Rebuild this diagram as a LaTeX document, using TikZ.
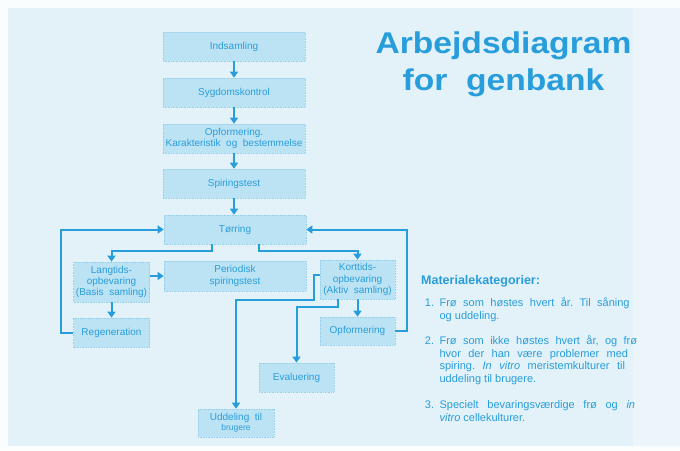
\documentclass[tikz,border=0pt]{standalone}
\usepackage{fontspec}
\setmainfont{Liberation Sans}
\newfontfamily\titlefont[FakeStretch=1.12]{Liberation Sans}
\usetikzlibrary{arrows.meta}
\frenchspacing

\definecolor{margin}{RGB}{250,253,254}
\definecolor{paper}{RGB}{227,242,248}
\definecolor{paperlight}{RGB}{236,246,250}
\definecolor{boxfill}{RGB}{188,227,243}
\definecolor{boxedge}{RGB}{150,208,234}
\definecolor{ink}{RGB}{40,157,220}

\tikzset{
  box/.style={rectangle, fill=boxfill, draw=boxedge, densely dotted, line width=0.6pt,
    text=ink, font=\fontsize{10}{11.2}\selectfont, align=center, inner sep=0pt},
  wide/.style={box, minimum width=142, minimum height=29},
  narrow/.style={box, minimum width=76, minimum height=29},
  flow/.style={draw=ink, line width=2pt, solid,
    -{Triangle[width=8pt,length=6pt]}},
  listtext/.style={text=ink, font=\fontsize{11}{12.7}\selectfont, inner sep=0pt},
}

\begin{document}
\begin{tikzpicture}[x=1pt,y=-1pt]
% paper
\fill[margin] (0,0) rectangle (680,450);
\fill[paper] (8,8) rectangle (633,446);
\fill[paperlight] (633,8) rectangle (680,446);
\useasboundingbox (0,0) rectangle (680,450);

% main column
\node[wide] (ind) at (234,46.5) {Indsamling};
\node[wide] (syg) at (234,92.5) {Sygdomskontrol};
\node[wide] (opf) at (234,138.5) {Opformering.\\Karakteristik\ \ og\ \ bestemmelse};
\node[wide] (spi) at (234,183.5) {Spiringstest};
\node[wide] (tor) at (235,229.5) {Tørring};

% storage branches
\node[narrow, minimum height=40] (lang) at (111.5,282) {Langtids-\\opbevaring\\(Basis\ \ samling)};
\node[wide, minimum height=30] (per) at (235,276) {Periodisk\\spiringstest};
\node[narrow, minimum width=75, minimum height=39] (kort) at (357.5,279.5) {Korttids-\\opbevaring\\(Aktiv\ \ samling)};
\node[narrow] (reg) at (111.5,332.5) {Regeneration};
\node[narrow, minimum width=75, minimum height=28] (opf2) at (357.5,331) {Opformering};
\node[narrow, minimum width=75] (eva) at (296.5,377.5) {Evaluering};
\node[narrow, minimum height=28] (udd) at (236,423) {Uddeling\ \ til\\[-1pt]{\fontsize{8.5}{9}\selectfont brugere}};

% bends
\coordinate (lloop) at (61,0);
\coordinate (rloop) at (407,0);
\coordinate (splitL) at (212,251);
\coordinate (splitR) at (259,251);
\coordinate (ku1) at (313.5,275);
\coordinate (ku2) at (313.5,300);
\coordinate (ke) at (338,307);

% connectors
\draw[flow] (ind.south) -- (ind.south |- syg.north);
\draw[flow] (syg.south) -- (syg.south |- opf.north);
\draw[flow] (opf.south) -- (opf.south |- spi.north);
\draw[flow] (spi.south) -- (spi.south |- tor.north);
\draw[flow] (tor.south -| splitL) -- (splitL) -| (lang.north);
\draw[flow] (tor.south -| splitR) -- (splitR) -| (kort.north);
\draw[flow] (lang.east |- per.west) -- (per.west);
\draw[flow] (lang.south) -- (reg.north);
\draw[flow] (kort.south) -- (opf2.north);
\draw[flow] (reg.west) -- (reg.west -| lloop) |- (tor.west);
\draw[flow] (opf2.east) -- (opf2.east -| rloop) |- (tor.east);
\draw[flow] (kort.west |- ku1) -- (ku1) -- (ku2) -| (udd.north);
\draw[flow] (kort.south -| ke) -- (ke) -| (eva.north);

% title
\node[text=ink, font={\titlefont\bfseries\fontsize{30}{36}\selectfont}, anchor=base, inner sep=0pt]
  (title1) at (503.5,53) {Arbejdsdiagram};
\node[text=ink, font={\titlefont\bfseries\fontsize{30}{36}\selectfont}, anchor=base, inner sep=0pt]
  (title2) at (503.5,90) {for\ \ genbank};

% categories
\node[text=ink, font=\bfseries\fontsize{12.5}{14}\selectfont, anchor=base west, inner sep=0pt]
  (cathead) at (421,284) {Materialekategorier:};
\node[listtext, anchor=base west] (item1) at (424.7,306.5)
  {\makebox[14.7pt][l]{1.}\parbox[t]{210pt}{%
    \makebox[190pt][s]{Frø som høstes hvert år. Til såning}\\
    og uddeling.}};
\node[listtext, anchor=base west] (item2) at (424.7,344.5)
  {\makebox[14.7pt][l]{2.}\parbox[t]{210pt}{%
    \makebox[197.5pt][s]{Frø som ikke høstes hvert år, og frø}\\
    \makebox[188.5pt][s]{hvor der han være problemer med}\\
    \makebox[185.5pt][s]{spiring. \textit{In vitro} meristemkulturer til}\\
    uddeling til brugere.}};
\node[listtext, anchor=base west] (item3) at (424.7,408.3)
  {\makebox[14.7pt][l]{3.}\parbox[t]{210pt}{%
    \makebox[195.5pt][s]{Specielt bevaringsværdige frø og \textit{in}}\\
    \textit{vitro} cellekulturer.}};
\end{tikzpicture}
\end{document}
